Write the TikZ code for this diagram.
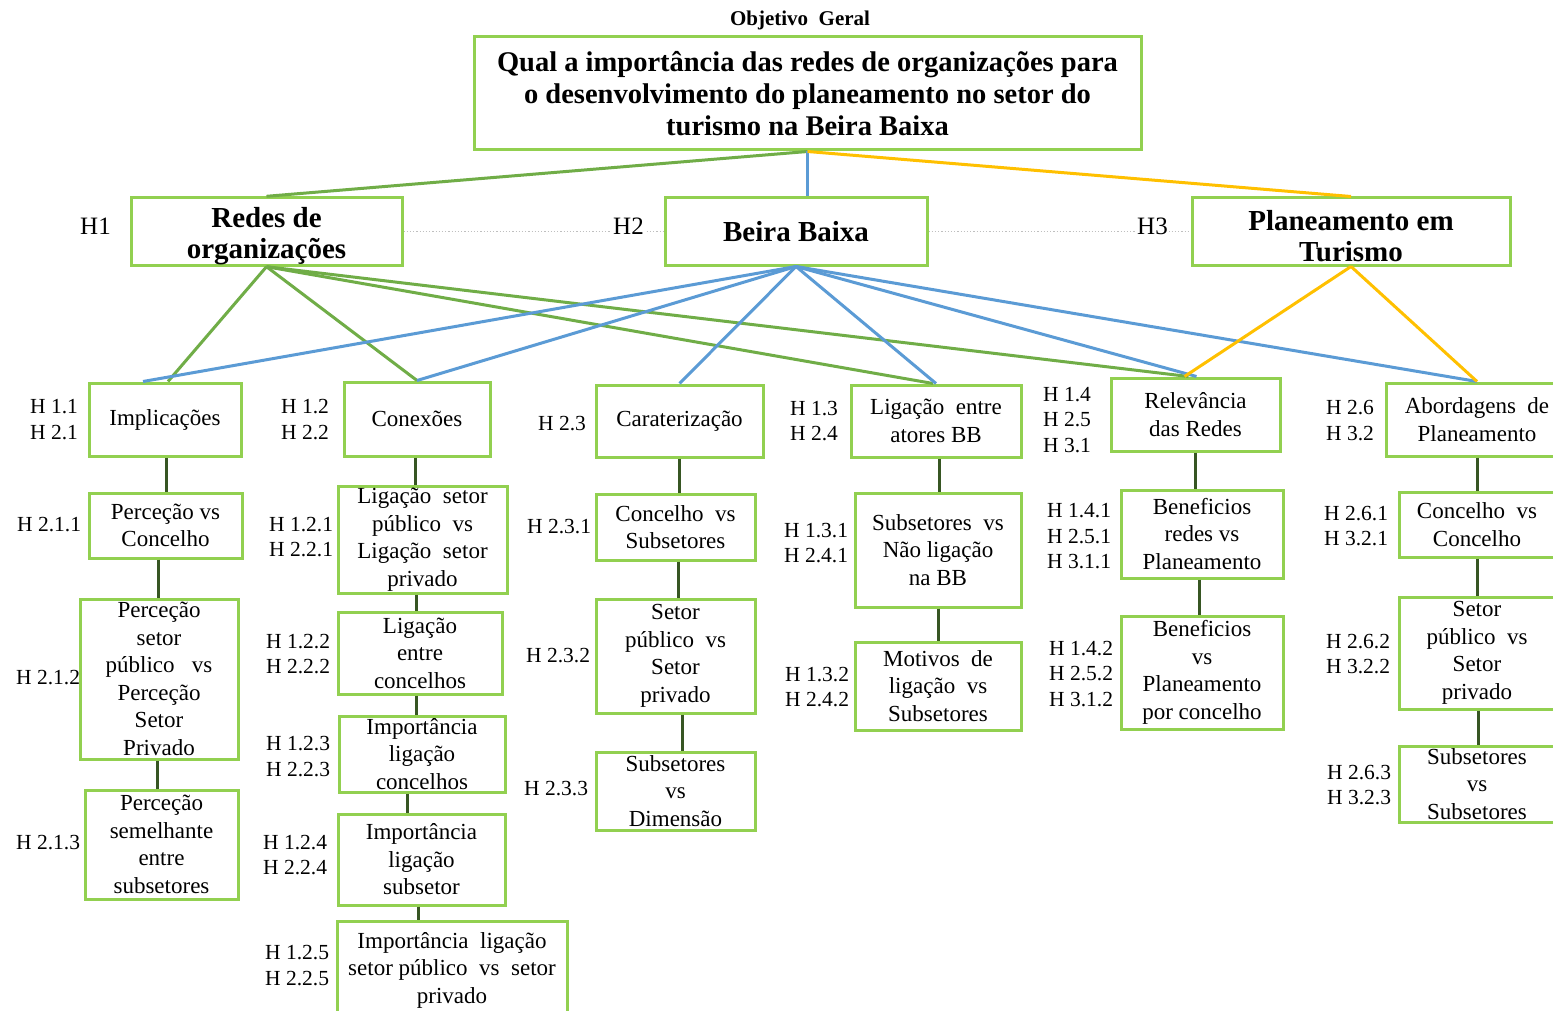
\documentclass[tikz,border=0pt]{standalone}
\usepackage{fontspec}
\setmainfont{Liberation Serif}
\usetikzlibrary{calc}
\definecolor{boxgreen}{HTML}{92D050}
\definecolor{lgreen}{HTML}{70AD47}
\definecolor{lblue}{HTML}{5B9BD5}
\definecolor{lorange}{HTML}{FFC000}
\definecolor{dkgreen}{HTML}{375623}
\definecolor{dotgray}{HTML}{BFBFBF}
\newcommand\myBody{\fontsize{23}{27.5}\selectfont}
\newcommand\myLab{\fontsize{21.5}{25.5}\selectfont}
\newcommand\myHead{\bfseries\fontsize{29}{31}\selectfont}
\newcommand\myMain{\bfseries\fontsize{28.5}{32}\selectfont}
\tikzset{
  box/.style={draw=boxgreen, line width=3pt, align=center, inner sep=0pt, font=\myBody},
  headbox/.style={box, font=\myHead},
  lab/.style={align=left, inner sep=0pt, anchor=west, font=\myLab},
  hlab/.style={lab, font=\fontsize{25}{28}\selectfont},
  gconn/.style={lgreen, line width=3pt},
  bconn/.style={lblue, line width=3pt},
  oconn/.style={lorange, line width=3pt},
  vconn/.style={dkgreen, line width=3pt},
  dotline/.style={dotgray, line width=1.2pt, dotted}
}
\begin{document}
\begin{tikzpicture}[x=1pt,y=-1pt]
\clip (0,0) rectangle (1553,1011);
\fill[white] (0,0) rectangle (1553,1011);

% title
\node[font=\bfseries\fontsize{21}{24}\selectfont, inner sep=0pt] (obj) at (800,20) {Objetivo\ \ Geral};
\node[box, font=\myMain, minimum width=667pt, minimum height=113pt] (main) at (807.5,93.5)
  {Qual a importância das redes de organizações para\\o desenvolvimento do planeamento no setor do\\turismo na Beira Baixa};

% level 1
\node[headbox, minimum width=271pt, minimum height=67pt] (redes) at (266.5,231.5) {\rule{0pt}{30pt}Redes de\\organizações};
\node[headbox, minimum width=262pt, minimum height=67pt] (beira) at (796,231.5) {Beira Baixa};
\node[headbox, minimum width=318pt, minimum height=67pt] (plan) at (1351,231.5) {\rule{0pt}{30pt}Planeamento em\\Turismo};

% level 2
\node[box, minimum width=152pt, minimum height=73pt] (impl) at (165,419.5) {Implicações};
\node[box, minimum width=146pt, minimum height=74pt] (conex) at (417,419) {Conexões};
\node[box, minimum width=167pt, minimum height=72pt] (carat) at (679.5,421) {Caraterização};
\node[box, minimum width=170pt, minimum height=72pt] (ligat) at (936,421) {Ligação\ \ entre\\atores BB};
\node[box, minimum width=169pt, minimum height=73pt] (relev) at (1195.5,414.5) {Relevância\\das Redes};
\node[box, minimum width=182pt, minimum height=73pt] (abord) at (1477,419.5) {Abordagens\ \ de\\Planeamento};

% column 1
\node[box, minimum width=153pt, minimum height=65pt] (pvc) at (165.5,525.5) {Perceção vs\\Concelho};
\node[box, minimum width=158pt, minimum height=160pt] (psp) at (159,679) {Perceção\\setor\\público\ \ \ vs\\Perceção\\Setor\\Privado};
\node[box, minimum width=153pt, minimum height=109pt] (psem) at (161.5,844.5) {Perceção\\semelhante\\entre\\subsetores};

% column 2
\node[box, minimum width=169pt, minimum height=107pt] (lsp) at (422.5,539.5) {Ligação\ \ setor\\público\ \ vs\\Ligação\ \ setor\\privado};
\node[box, minimum width=164pt, minimum height=82pt] (lec) at (420,653) {Ligação\\entre\\concelhos};
\node[box, minimum width=166pt, minimum height=76pt] (ilc) at (422,754) {Importância\\ligação\\concelhos};
\node[box, minimum width=167pt, minimum height=91pt] (ils) at (421.5,859.5) {Importância\\ligação\\subsetor};
\node[box, minimum width=230pt, minimum height=98pt] (ilsp) at (452,970) {Importância\ \ ligação\\setor público\ \ vs\ \ setor\\privado};

% column 3
\node[box, minimum width=159pt, minimum height=66pt] (cvs) at (675.5,527) {Concelho\ \ vs\\Subsetores};
\node[box, minimum width=159pt, minimum height=114pt] (spsp) at (675.5,656) {Setor\\público\ \ vs\\Setor\\privado};
\node[box, minimum width=159pt, minimum height=78pt] (svd) at (675.5,791) {Subsetores\\vs\\Dimensão};

% column 4
\node[box, minimum width=166pt, minimum height=114pt] (snl) at (938,550) {Subsetores\ \ vs\\Não ligação\\na BB};
\node[box, minimum width=166pt, minimum height=88pt] (mls) at (938,686) {Motivos\ \ de\\ligação\ \ vs\\Subsetores};

% column 5
\node[box, minimum width=162pt, minimum height=88pt] (brp) at (1202,534) {Beneficios\\redes vs\\Planeamento};
\node[box, minimum width=162pt, minimum height=113pt] (bpc) at (1202,672.5) {Beneficios\\vs\\Planeamento\\por concelho};

% column 6
\node[box, minimum width=156pt, minimum height=65pt] (cvc) at (1477,524.5) {Concelho\ \ vs\\Concelho};
\node[box, minimum width=156pt, minimum height=112pt] (spsp2) at (1477,653) {Setor\\público\ \ vs\\Setor\\privado};
\node[box, minimum width=156pt, minimum height=76pt] (svs) at (1477,784) {Subsetores\\vs\\Subsetores};

% dotted links between level-1 boxes
\draw[dotline] (redes.east) -- (beira.west);
\draw[dotline] (beira.east) -- (plan.west);

% level-1 labels
\node[hlab] (h1) at (80,226) {H1};
\node[hlab, fill=white, inner sep=1pt] (h2) at (612,226) {H2};
\node[hlab, fill=white, inner sep=1pt] (h3) at (1136,226) {H3};

% connectors from main
\draw[gconn] (main.south) -- (redes.north);
\draw[bconn] (main.south) -- (main.south |- beira.north);
\draw[oconn] (main.south) -- (plan.north);

% green from Redes
\draw[gconn] (redes.south) -- ([xshift=3pt]impl.north);
\draw[gconn] (redes.south) -- (conex.north);
\draw[gconn] (redes.south) -- ([xshift=-3pt]ligat.north);
\draw[gconn] (redes.south) -- ([xshift=-7pt]relev.north);
% blue from Beira
\draw[bconn] (beira.south) -- ([xshift=-22pt]impl.north);
\draw[bconn] (beira.south) -- (conex.north);
\draw[bconn] (beira.south) -- (carat.north);
\draw[bconn] (beira.south) -- (ligat.north);
\draw[bconn] (beira.south) -- ([xshift=1pt]relev.north);
\draw[bconn] (beira.south) -- (abord.north);
% orange from Planeamento
\draw[oconn] (plan.south) -- ([xshift=-11pt]relev.north);
\draw[oconn] (plan.south) -- (abord.north);

% vertical dark connectors
\draw[vconn] ([xshift=1pt]impl.south) -- ([xshift=1pt]impl.south |- pvc.north);
\draw[vconn] ([xshift=-7.5pt]pvc.south) -- ([xshift=-7.5pt]pvc.south |- psp.north);
\draw[vconn] ([xshift=-2pt]psp.south) -- ([xshift=-2pt]psp.south |- psem.north);
\draw[vconn] ([xshift=-2pt]conex.south) -- ([xshift=-2pt]conex.south |- lsp.north);
\draw[vconn] ([xshift=-6.5pt]lsp.south) -- ([xshift=-6.5pt]lsp.south |- lec.north);
\draw[vconn] ([xshift=-4pt]lec.south) -- ([xshift=-4pt]lec.south |- ilc.north);
\draw[vconn] ([xshift=-15pt]ilc.south) -- ([xshift=-15pt]ilc.south |- ils.north);
\draw[vconn] ([xshift=-3.5pt]ils.south) -- ([xshift=-3.5pt]ils.south |- ilsp.north);
\draw[vconn] (carat.south) -- (carat.south |- cvs.north);
\draw[vconn] ([xshift=2.5pt]cvs.south) -- ([xshift=2.5pt]cvs.south |- spsp.north);
\draw[vconn] ([xshift=6.5pt]spsp.south) -- ([xshift=6.5pt]spsp.south |- svd.north);
\draw[vconn] ([xshift=3pt]ligat.south) -- ([xshift=3pt]ligat.south |- snl.north);
\draw[vconn] (snl.south) -- (snl.south |- mls.north);
\draw[vconn] (relev.south) -- (relev.south |- brp.north);
\draw[vconn] ([xshift=-3pt]brp.south) -- ([xshift=-3pt]brp.south |- bpc.north);
\draw[vconn] (abord.south) -- (abord.south |- cvc.north);
\draw[vconn] (cvc.south) -- (cvc.south |- spsp2.north);
\draw[vconn] ([xshift=1pt]spsp2.south) -- ([xshift=1pt]spsp2.south |- svs.north);

% hypothesis labels
\node[lab] (l11) at (30,419.5) {H 1.1\\H 2.1};
\node[lab] (l12) at (281,419.5) {H 1.2\\H 2.2};
\node[lab] (l23) at (538,424) {H 2.3};
\node[lab] (l13) at (790,421) {H 1.3\\H 2.4};
\node[lab] (l14) at (1043,420) {H 1.4\\H 2.5\\H 3.1};
\node[lab] (l26) at (1326,420.5) {H 2.6\\H 3.2};

\node[lab] (l211) at (17,525) {H 2.1.1};
\node[lab] (l121) at (269,537) {H 1.2.1\\H 2.2.1};
\node[lab] (l231) at (527,527) {H 2.3.1};
\node[lab] (l131) at (784,543) {H 1.3.1\\H 2.4.1};
\node[lab] (l141) at (1047,536.5) {H 1.4.1\\H 2.5.1\\H 3.1.1};
\node[lab] (l261) at (1324,526) {H 2.6.1\\H 3.2.1};

\node[lab] (l212) at (16,678) {H 2.1.2};
\node[lab] (l122) at (266,654) {H 1.2.2\\H 2.2.2};
\node[lab] (l232) at (526,656) {H 2.3.2};
\node[lab] (l132) at (785,687) {H 1.3.2\\H 2.4.2};
\node[lab] (l142) at (1049,674) {H 1.4.2\\H 2.5.2\\H 3.1.2};
\node[lab] (l262) at (1326,654) {H 2.6.2\\H 3.2.2};

\node[lab] (l213) at (16,843) {H 2.1.3};
\node[lab] (l123) at (266,756.5) {H 1.2.3\\H 2.2.3};
\node[lab] (l233) at (524,789) {H 2.3.3};
\node[lab] (l263) at (1327,785) {H 2.6.3\\H 3.2.3};
\node[lab] (l124) at (263,855) {H 1.2.4\\H 2.2.4};
\node[lab] (l125) at (265,965.5) {H 1.2.5\\H 2.2.5};
\end{tikzpicture}
\end{document}
